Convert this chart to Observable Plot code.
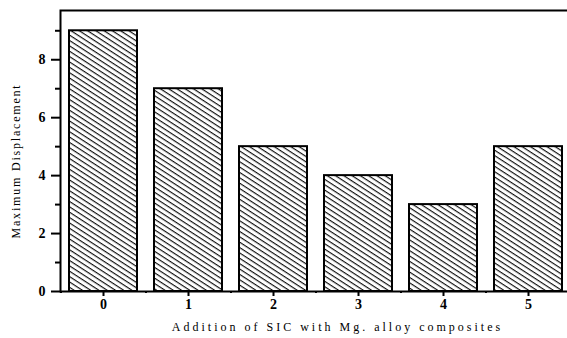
<!DOCTYPE html>
<html>
<head>
<meta charset="utf-8">
<script src="https://cdn.jsdelivr.net/npm/d3@7"></script>
<script src="https://cdn.jsdelivr.net/npm/@observablehq/plot@0.6"></script>
<style>
  html, body { margin: 0; padding: 0; background: white; }
  #chart svg text { font-family: "Liberation Serif", "Times New Roman", serif; }
</style>
</head>
<body>
<div id="chart"></div>
<script>
// SiC addition levels and measured maximum displacement
const categories = ["0", "1", "2", "3", "4", "5"];
const displacement = [9, 7, 5, 4, 3, 5];
const yMajorTicks = [0, 2, 4, 6, 8];
const yMinorTicks = [1, 3, 5, 7, 9];
const yMax = 9.7;
const xLabel = "Addition of SIC with Mg. alloy composites";
const yLabel = "Maximum Displacement";

const data = categories.map((c, i) => ({addition: c, value: displacement[i]}));

const font = "'Liberation Serif', 'Times New Roman', serif";

const chart = Plot.plot({
  width: 567,
  height: 338,
  marginLeft: 60,
  marginRight: -3,
  marginTop: 10,
  marginBottom: 47,
  style: {fontFamily: font, background: "white", color: "black", overflow: "visible"},
  x: {domain: categories, paddingInner: 0.2, paddingOuter: 0.1},
  y: {domain: [0, yMax]},
  marks: [
    Plot.barY(data, {x: "addition", y: "value", fill: "url(#hatch)", stroke: "black", strokeWidth: 2}),
    Plot.frame({stroke: "black", strokeWidth: 2}),
    Plot.axisY(yMajorTicks, {tickSize: 9, tickPadding: 6, fontWeight: "bold", fontSize: 14, strokeWidth: 2, label: null, ariaLabel: "y-ticks"}),
    Plot.axisY(yMinorTicks, {tickSize: 5, text: null, strokeWidth: 2, label: null}),
    Plot.axisX({tickSize: 5, tickPadding: 3, fontWeight: "bold", fontSize: 14, strokeWidth: 2, label: null}),
    // small marks at the boundaries between categories
    Plot.ruleX(categories, {x: d => d, dx: -42.5, y1: 0, y2: -0.07, strokeWidth: 2}),
    Plot.text([xLabel], {frameAnchor: "bottom", textAnchor: "middle", dx: 22, dy: 36, fontSize: 12, lineAnchor: "middle"}),
    Plot.text([yLabel], {frameAnchor: "left", textAnchor: "middle", dx: -44, dy: 10, rotate: -90, fontSize: 12, lineAnchor: "middle"})
  ]
});

// diagonal hatch fill for the bars
const svg = d3.select(chart);
const defs = svg.insert("defs", ":first-child");
const pat = defs.append("pattern")
  .attr("id", "hatch")
  .attr("patternUnits", "userSpaceOnUse")
  .attr("width", 8)
  .attr("height", 4.5)
  .attr("patternTransform", "rotate(33)");
pat.append("rect").attr("width", 8).attr("height", 4.5).attr("fill", "white");
pat.append("line")
  .attr("x1", 0).attr("y1", 0.6).attr("x2", 8).attr("y2", 0.6)
  .attr("stroke", "black").attr("stroke-width", 1.1);

// tick numbers in bold serif
const tickTexts = new Set([...categories, ...yMajorTicks.map(String)]);
svg.selectAll("text").filter(function() { return tickTexts.has(this.textContent); })
  .style("font-size", "14px")
  .style("font-weight", "bold");

svg.selectAll("text").filter(function() { return this.textContent === xLabel; })
  .attr("letter-spacing", "3px");
svg.selectAll("text").filter(function() { return this.textContent === yLabel; })
  .attr("letter-spacing", "1.8px");

document.getElementById("chart").appendChild(chart);
</script>
</body>
</html>
